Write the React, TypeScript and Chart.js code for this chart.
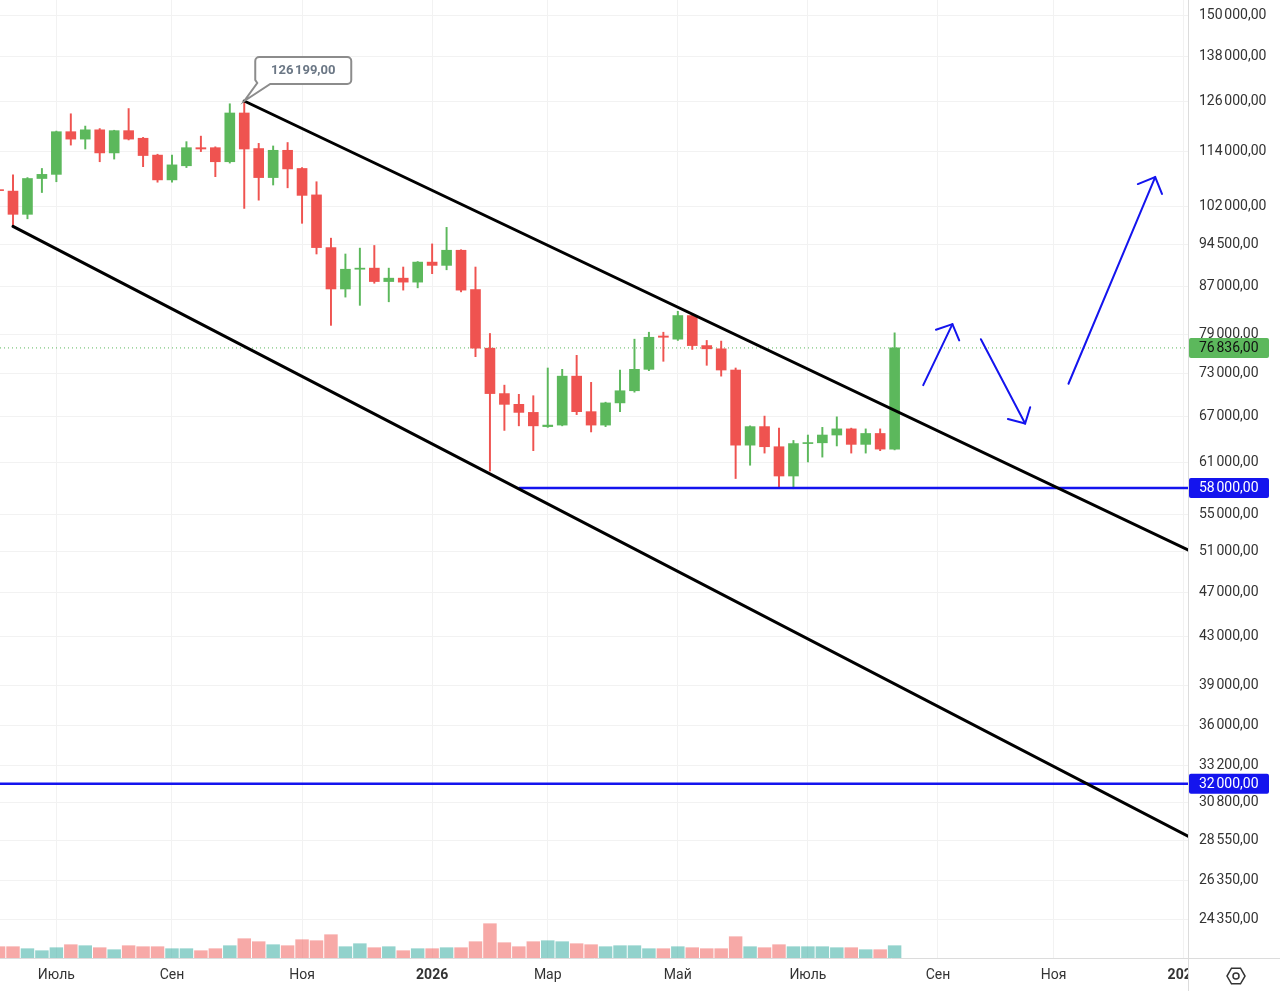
import React, { useEffect, useRef } from "react";
import { Chart, registerables } from "chart.js";

Chart.register(...registerables);

const FONT = "Roboto, 'Noto Sans', 'DejaVu Sans', sans-serif";

// Weekly candles. Array position 0 = week of 2025-06-09 (x = -1), position 1 = week of 2025-06-16 (x = 0) ...
const firstWeekX = -1;

const opens = [
  105600, 105300, 100500, 108000, 108900, 118650, 116900, 119100, 113700, 118900,
  117100, 113200, 107700, 110800, 114900, 114900, 111700, 123200, 114700, 108200,
  114300, 110200, 104500, 94000, 86500, 90000, 90200, 87800, 88400, 87700,
  91300, 90700, 93500, 86400, 76800, 70100, 68600, 67500, 65600, 65800,
  72600, 67600, 65800, 68800, 70500, 73600, 78700, 78200, 82000, 77200,
  76700, 73500, 63200, 65600, 63000, 59400, 63400, 63500, 64500, 65300,
  63300, 64700, 62700,
];
const highs = [
  105900, 108800, 108200, 110200, 118800, 123000, 120000, 119400, 119000, 124300,
  117300, 113400, 113200, 116300, 117600, 115100, 125500, 126199, 115900, 115300,
  116100, 110400, 107300, 95800, 92800, 93900, 94400, 90200, 90400, 91400,
  94700, 97900, 93600, 90400, 79100, 71300, 70000, 69800, 73800, 73600,
  75700, 71700, 68900, 73500, 78200, 79300, 79300, 82700, 82300, 78000,
  77900, 73800, 65700, 67000, 65400, 63800, 64500, 65500, 66900, 65400,
  65300, 65300, 79200,
];
const lows = [
  105000, 98100, 99600, 105000, 107300, 115500, 114600, 111700, 112300, 116700,
  110600, 107200, 107200, 110400, 114000, 108400, 111400, 101700, 103400, 106600,
  106000, 98700, 92800, 80400, 85100, 83700, 87500, 84300, 86300, 86700,
  89200, 89900, 86000, 75500, 60000, 65100, 65700, 62500, 65500, 65700,
  67200, 64900, 65600, 67600, 70300, 73400, 74800, 78000, 76600, 74200,
  72600, 59100, 60700, 62200, 58000, 57900, 61100, 61700, 63100, 62200,
  62200, 62500, 62600,
];
const closes = [
  105400, 100500, 108000, 108900, 118650, 116900, 119100, 113700, 118900, 116900,
  113100, 107700, 111000, 114900, 114600, 111700, 123200, 114600, 108200, 114300,
  110100, 104400, 94000, 86500, 90000, 90200, 87800, 88400, 87700, 91300,
  90700, 93500, 86300, 76800, 70100, 68600, 67500, 65700, 65800, 72600,
  67600, 65800, 68800, 70500, 73600, 78500, 78500, 82000, 77200, 76700,
  73500, 63200, 65600, 63000, 59400, 63400, 63500, 64500, 65300, 63300,
  64700, 62700, 76836,
];
// volume, thousands
const volumes = [
  113, 113, 93, 73, 103, 133, 123, 103, 83, 123,
  113, 113, 93, 93, 73, 93, 123, 193, 163, 133,
  123, 183, 173, 233, 113, 143, 103, 113, 73, 93,
  93, 103, 103, 163, 343, 153, 113, 163, 173, 163,
  143, 133, 113, 123, 123, 93, 93, 113, 103, 93,
  93, 213, 113, 103, 133, 113, 113, 113, 103, 103,
  83, 83, 123,
];

const monthTickWeeks = [3, 11, 20, 29, 37, 46, 55, 64, 72, 81];
const monthTickLabels = ["Июль", "Сен", "Ноя", "2026", "Мар", "Май", "Июль", "Сен", "Ноя", "2027"];

const priceTicks = [
  150000, 138000, 126000, 114000, 102000, 94500, 87000, 79000, 73000, 67000, 61000,
  55000, 51000, 47000, 43000, 39000, 36000, 33200, 30800, 28550, 26350, 24350,
];

// visible range
const xMin = -0.9;
const xMax = 81.3;
const yMin = 22550;
const yMax = 154600;
const volAxisMax = 9580;

// drawings
const peakWeek = 16;
const peakPrice = 126199;
const upperChannel = [
  { x: 16, y: 126199 },
  { x: 81.3, y: 51200 },
];
const lowerChannel = [
  { x: 0, y: 98100 },
  { x: 81.3, y: 28800 },
];
const supportWeekStart = 35;
const supportLevel = 58000;
const targetLevel = 32000;
const lastPrice = 76836;

const arrow1Shaft = [{ x: 62.98, y: 71300 }, { x: 65.0, y: 80600 }];
const arrow1Head = [{ x: 63.86, y: 79700 }, { x: 65.0, y: 80600 }, { x: 65.47, y: 78000 }];
const arrow2Shaft = [{ x: 66.97, y: 78200 }, { x: 70.03, y: 66000 }];
const arrow2Head = [{ x: 68.84, y: 66600 }, { x: 70.03, y: 66000 }, { x: 70.38, y: 68200 }];
const arrow3Shaft = [{ x: 73.03, y: 71500 }, { x: 79.03, y: 108300 }];
const arrow3Head = [{ x: 77.83, y: 106800 }, { x: 79.03, y: 108300 }, { x: 79.5, y: 104700 }];

const UP = "#5cb85c";
const DOWN = "#ef5350";
const VOL_UP = "rgba(38,166,154,0.5)";
const VOL_DOWN = "rgba(239,83,80,0.5)";
const BLUE = "#1414ee";
const TEXT = "#333333";
const GRID = "#f2f2f2";
const BORDER = "#dcdcdc";

function fmt(v: number): string {
  const s = Math.round(v).toString().replace(/\B(?=(\d{3})+(?!\d))/g, "\u202F");
  return s + ",00";
}

const xs = closes.map((_, k) => k + firstWeekX);
const isUp = (k: number) => closes[k] >= opens[k];

const priceTags = [
  { value: lastPrice, bg: UP, fg: "#111111" },
  { value: supportLevel, bg: BLUE, fg: "#ffffff" },
  { value: targetLevel, bg: BLUE, fg: "#ffffff" },
];

const overlayPlugin = {
  id: "overlay",
  afterDraw(chart: any) {
    const { ctx, chartArea: a, scales } = chart;
    const xScale = scales.x;
    const yScale = scales.y;
    ctx.save();

    // cover the x-axis strip under the price scale
    ctx.fillStyle = "#ffffff";
    ctx.fillRect(a.right + 1, a.bottom + 1, chart.width - a.right - 1, chart.height - a.bottom - 1);
    ctx.strokeStyle = BORDER;
    ctx.lineWidth = 1;
    ctx.beginPath();
    ctx.moveTo(Math.round(a.right) + 0.5, a.bottom);
    ctx.lineTo(Math.round(a.right) + 0.5, chart.height);
    ctx.moveTo(a.right, Math.round(a.bottom) + 0.5);
    ctx.lineTo(chart.width, Math.round(a.bottom) + 0.5);
    ctx.stroke();

    // settings icon
    const cx = chart.width - 44;
    const cy = a.bottom + 18;
    ctx.strokeStyle = TEXT;
    ctx.lineWidth = 1.5;
    ctx.beginPath();
    for (let i = 0; i < 6; i++) {
      const ang = (Math.PI / 3) * i;
      const px = cx + 9 * Math.cos(ang);
      const py = cy + 9 * Math.sin(ang);
      if (i === 0) ctx.moveTo(px, py);
      else ctx.lineTo(px, py);
    }
    ctx.closePath();
    ctx.stroke();
    ctx.beginPath();
    ctx.arc(cx, cy, 3, 0, Math.PI * 2);
    ctx.stroke();

    // price tags on the right scale
    ctx.font = `14px ${FONT}`;
    ctx.textBaseline = "middle";
    ctx.textAlign = "left";
    for (const t of priceTags) {
      const py = yScale.getPixelForValue(t.value);
      ctx.fillStyle = t.bg;
      ctx.beginPath();
      ctx.roundRect(a.right + 1, py - 10, 80, 20, 2);
      ctx.fill();
      ctx.fillStyle = t.fg;
      ctx.fillText(fmt(t.value), a.right + 11, py + 0.5);
    }

    // callout for the peak
    const px = xScale.getPixelForValue(peakWeek);
    const py = yScale.getPixelForValue(peakPrice);
    const L = px + 11;
    const R = px + 107;
    const T = py - 44;
    const B = py - 17;
    const r = 4;
    ctx.beginPath();
    ctx.moveTo(L + r, T);
    ctx.lineTo(R - r, T);
    ctx.arcTo(R, T, R, T + r, r);
    ctx.lineTo(R, B - r);
    ctx.arcTo(R, B, R - r, B, r);
    ctx.lineTo(L + 15, B);
    ctx.lineTo(px, py);
    ctx.lineTo(L + 2, B - 1);
    ctx.lineTo(L, B - r);
    ctx.lineTo(L, T + r);
    ctx.arcTo(L, T, L + r, T, r);
    ctx.closePath();
    ctx.fillStyle = "#ffffff";
    ctx.fill();
    ctx.strokeStyle = "#8c8c8c";
    ctx.lineWidth = 2;
    ctx.stroke();
    ctx.fillStyle = "#6b7785";
    ctx.font = `bold 13px ${FONT}`;
    ctx.textAlign = "center";
    ctx.fillText(fmt(peakPrice), (L + R) / 2, (T + B) / 2 + 0.5);

    ctx.restore();
  },
};

function lineDs(data: any[], color: string, width: number, extra: any = {}) {
  return {
    type: "line",
    data,
    borderColor: color,
    borderWidth: width,
    pointRadius: 0,
    fill: false,
    tension: 0,
    yAxisID: "y",
    order: 0,
    borderCapStyle: "round",
    ...extra,
  };
}

export default function App() {
  const ref = useRef<HTMLCanvasElement>(null);

  useEffect(() => {
    document.body.style.margin = "0";
    document.body.style.overflow = "hidden";
    const canvas = ref.current;
    if (!canvas) return;

    const bodyData = xs.map((x, k) => ({ x, y: [opens[k], closes[k]] }));
    const wickData = xs.map((x, k) => ({ x, y: [lows[k], highs[k]] }));
    const volData = xs.map((x, k) => ({ x, y: volumes[k] }));
    const candleColors = xs.map((_, k) => (isUp(k) ? UP : DOWN));
    const volColors = xs.map((_, k) => (isUp(k) ? VOL_UP : VOL_DOWN));

    const chart = new Chart(canvas, {
      type: "bar",
      data: {
        datasets: [
          lineDs(upperChannel, "#000000", 3),
          lineDs(lowerChannel, "#000000", 3),
          lineDs([{ x: supportWeekStart, y: supportLevel }, { x: xMax, y: supportLevel }], BLUE, 2.5, { borderCapStyle: "butt" }),
          lineDs([{ x: xMin, y: targetLevel }, { x: xMax, y: targetLevel }], BLUE, 2.5, { borderCapStyle: "butt" }),
          lineDs([{ x: xMin, y: lastPrice }, { x: xMax, y: lastPrice }], UP, 1, { borderDash: [1, 3], order: 4, borderCapStyle: "butt" }),
          lineDs(arrow1Shaft, BLUE, 2),
          lineDs(arrow1Head, BLUE, 2),
          lineDs(arrow2Shaft, BLUE, 2),
          lineDs(arrow2Head, BLUE, 2),
          lineDs(arrow3Shaft, BLUE, 2),
          lineDs(arrow3Head, BLUE, 2),
          {
            type: "bar",
            data: bodyData,
            backgroundColor: candleColors,
            borderWidth: 0,
            barThickness: 10,
            minBarLength: 1,
            grouped: false,
            yAxisID: "y",
            order: 2,
          },
          {
            type: "bar",
            data: wickData,
            backgroundColor: candleColors,
            borderWidth: 0,
            barThickness: 1.3,
            grouped: false,
            yAxisID: "y",
            order: 3,
          },
          {
            type: "bar",
            data: volData,
            backgroundColor: volColors,
            borderWidth: 0,
            barThickness: 12.8,
            grouped: false,
            yAxisID: "yv",
            order: 5,
          },
        ] as any,
      },
      options: {
        responsive: false,
        animation: false,
        devicePixelRatio: 1,
        layout: { padding: 0 },
        plugins: {
          legend: { display: false },
          tooltip: { enabled: false },
        },
        scales: {
          x: {
            type: "linear",
            min: xMin,
            max: xMax,
            bounds: "data",
            offset: false,
            afterBuildTicks: (s: any) => {
              s.ticks = monthTickWeeks.map((v) => ({ value: v }));
            },
            afterFit: (s: any) => {
              s.height = 33;
              s.paddingLeft = 0;
              s.paddingRight = 0;
            },
            grid: { color: GRID, drawTicks: false, offset: false },
            border: { color: BORDER },
            ticks: {
              autoSkip: false,
              maxRotation: 0,
              padding: 9,
              color: TEXT,
              font: (ctx: any) => ({
                family: FONT,
                size: 14,
                weight: /^\d+$/.test(monthTickLabels[ctx.index] || "") ? "bold" : "normal",
              }),
              callback: (_v: any, i: number) => monthTickLabels[i],
            },
          },
          y: {
            type: "logarithmic",
            position: "right",
            min: yMin,
            max: yMax,
            bounds: "data",
            afterBuildTicks: (s: any) => {
              s.ticks = priceTicks.map((v) => ({ value: v }));
            },
            afterFit: (s: any) => {
              s.width = 92;
              s.paddingTop = 0;
              s.paddingBottom = 0;
            },
            grid: { color: GRID, drawTicks: false },
            border: { color: BORDER },
            ticks: {
              autoSkip: false,
              padding: 11,
              crossAlign: "near",
              color: TEXT,
              font: { family: FONT, size: 14 },
              callback: (v: any) => fmt(Number(v)),
            },
          },
          yv: {
            type: "linear",
            display: false,
            min: 0,
            max: volAxisMax,
          },
        },
      } as any,
      plugins: [overlayPlugin],
    });

    return () => chart.destroy();
  }, []);

  return (
    <div style={{ width: 1280, height: 991, background: "#fff" }}>
      <canvas ref={ref} width={1280} height={991} style={{ display: "block" }} />
    </div>
  );
}
